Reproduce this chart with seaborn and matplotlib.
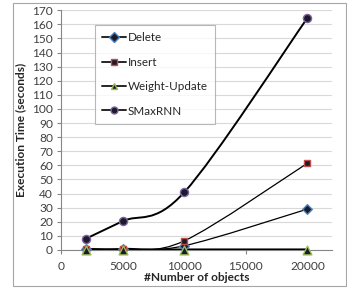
import numpy as np
import matplotlib.pyplot as plt
import seaborn as sns
from matplotlib.path import Path
from matplotlib.patches import PathPatch, Rectangle
from matplotlib.lines import Line2D

# values
objects = [2000, 5000, 10000, 20000]
delete_times = [0.5, 0.5, 3.0, 29.0]
insert_times = [1.0, 1.0, 6.5, 61.5]
weight_update_times = [0.3, 0.3, 0.3, 0.3]
smaxrnn_times = [8.0, 20.5, 41.0, 164.5]

x_ticks = [0, 5000, 10000, 15000, 20000]
y_ticks = list(range(0, 171, 10))

SERIES = [
    ("Delete", delete_times, "D", "#4F81BD", 0.9, 24),
    ("Insert", insert_times, "s", "#C0504D", 0.9, 24),
    ("Weight-Update", weight_update_times, "^", "#9BBB59", 1.6, 40),
    ("SMaxRNN", smaxrnn_times, "o", "#8064A2", 1.4, 34),
]
MARKER_FILL = "#1b1b2b"


def smooth_path(xs, ys):
    # excel style smoothed line: bezier through each point
    pts = np.column_stack([xs, ys]).astype(float)
    n = len(pts)
    verts = [pts[0]]
    codes = [Path.MOVETO]
    for i in range(n - 1):
        p_prev = pts[i - 1] if i > 0 else pts[i]
        p_next = pts[i + 2] if i + 2 < n else pts[i + 1]
        c1 = pts[i] + (pts[i + 1] - p_prev) / 6
        c2 = pts[i + 1] - (p_next - pts[i]) / 6
        verts += [c1, c2, pts[i + 1]]
        codes += [Path.CURVE4] * 3
    return Path(verts, codes)


sns.set_theme(style="white")
plt.rcParams["font.family"] = ["Lato", "DejaVu Sans"]

fig = plt.figure(figsize=(3.47, 2.89), dpi=100)
ax = fig.add_axes([0.1767, 0.135, 0.78, 0.8294])

handles = []
for label, values, marker, edge, lw, size in SERIES:
    ax.add_patch(PathPatch(smooth_path(objects, values), facecolor="none",
                           edgecolor="black", linewidth=lw, zorder=3))
    sns.scatterplot(x=objects, y=values, marker=marker, s=size, color=MARKER_FILL,
                    edgecolor=edge, linewidth=1.0, ax=ax, zorder=4, clip_on=False)
    handles.append(Line2D([0], [0], color="#262626", linewidth=1.4, marker=marker,
                          markersize=5, markerfacecolor=MARKER_FILL,
                          markeredgecolor=edge, markeredgewidth=1.0, label=label))

ax.set_xlim(0, 22000)
ax.set_ylim(0, 170)
ax.set_xticks(x_ticks)
ax.set_yticks(y_ticks)
ax.tick_params(axis="both", labelsize=8.6, length=3, width=0.8, color="#868686",
               direction="out", pad=3, labelcolor="#404040")
ax.tick_params(axis="x", bottom=True, pad=5)
ax.tick_params(axis="y", left=True)
ax.grid(axis="y", color="#d9d9d9", linewidth=0.8)
ax.set_axisbelow(True)

for side in ["top", "right"]:
    ax.spines[side].set_visible(False)
for side in ["left", "bottom"]:
    ax.spines[side].set_color("#868686")
    ax.spines[side].set_linewidth(0.8)

ax.set_xlabel("#Number of objects", fontsize=8.6, fontweight="bold", labelpad=0)
ax.set_ylabel("Execution Time (seconds)", fontsize=8.6, fontweight="bold", labelpad=4)

leg = ax.legend(handles=handles, loc="upper left", bbox_to_anchor=(0.124, 0.9375),
                fontsize=8.4, frameon=True, fancybox=False, handlelength=2.1,
                handletextpad=0.1, labelspacing=1.15, borderpad=0.6,
                borderaxespad=0)
leg.get_frame().set_edgecolor("#a6a6a6")
leg.get_frame().set_linewidth(0.8)

fig.patches.append(Rectangle((13 / 347, 3 / 289), 333 / 347, 283 / 289,
                             transform=fig.transFigure, fill=False,
                             edgecolor="#a6a6a6", linewidth=0.8))

fig.savefig("out.png", dpi=100)
